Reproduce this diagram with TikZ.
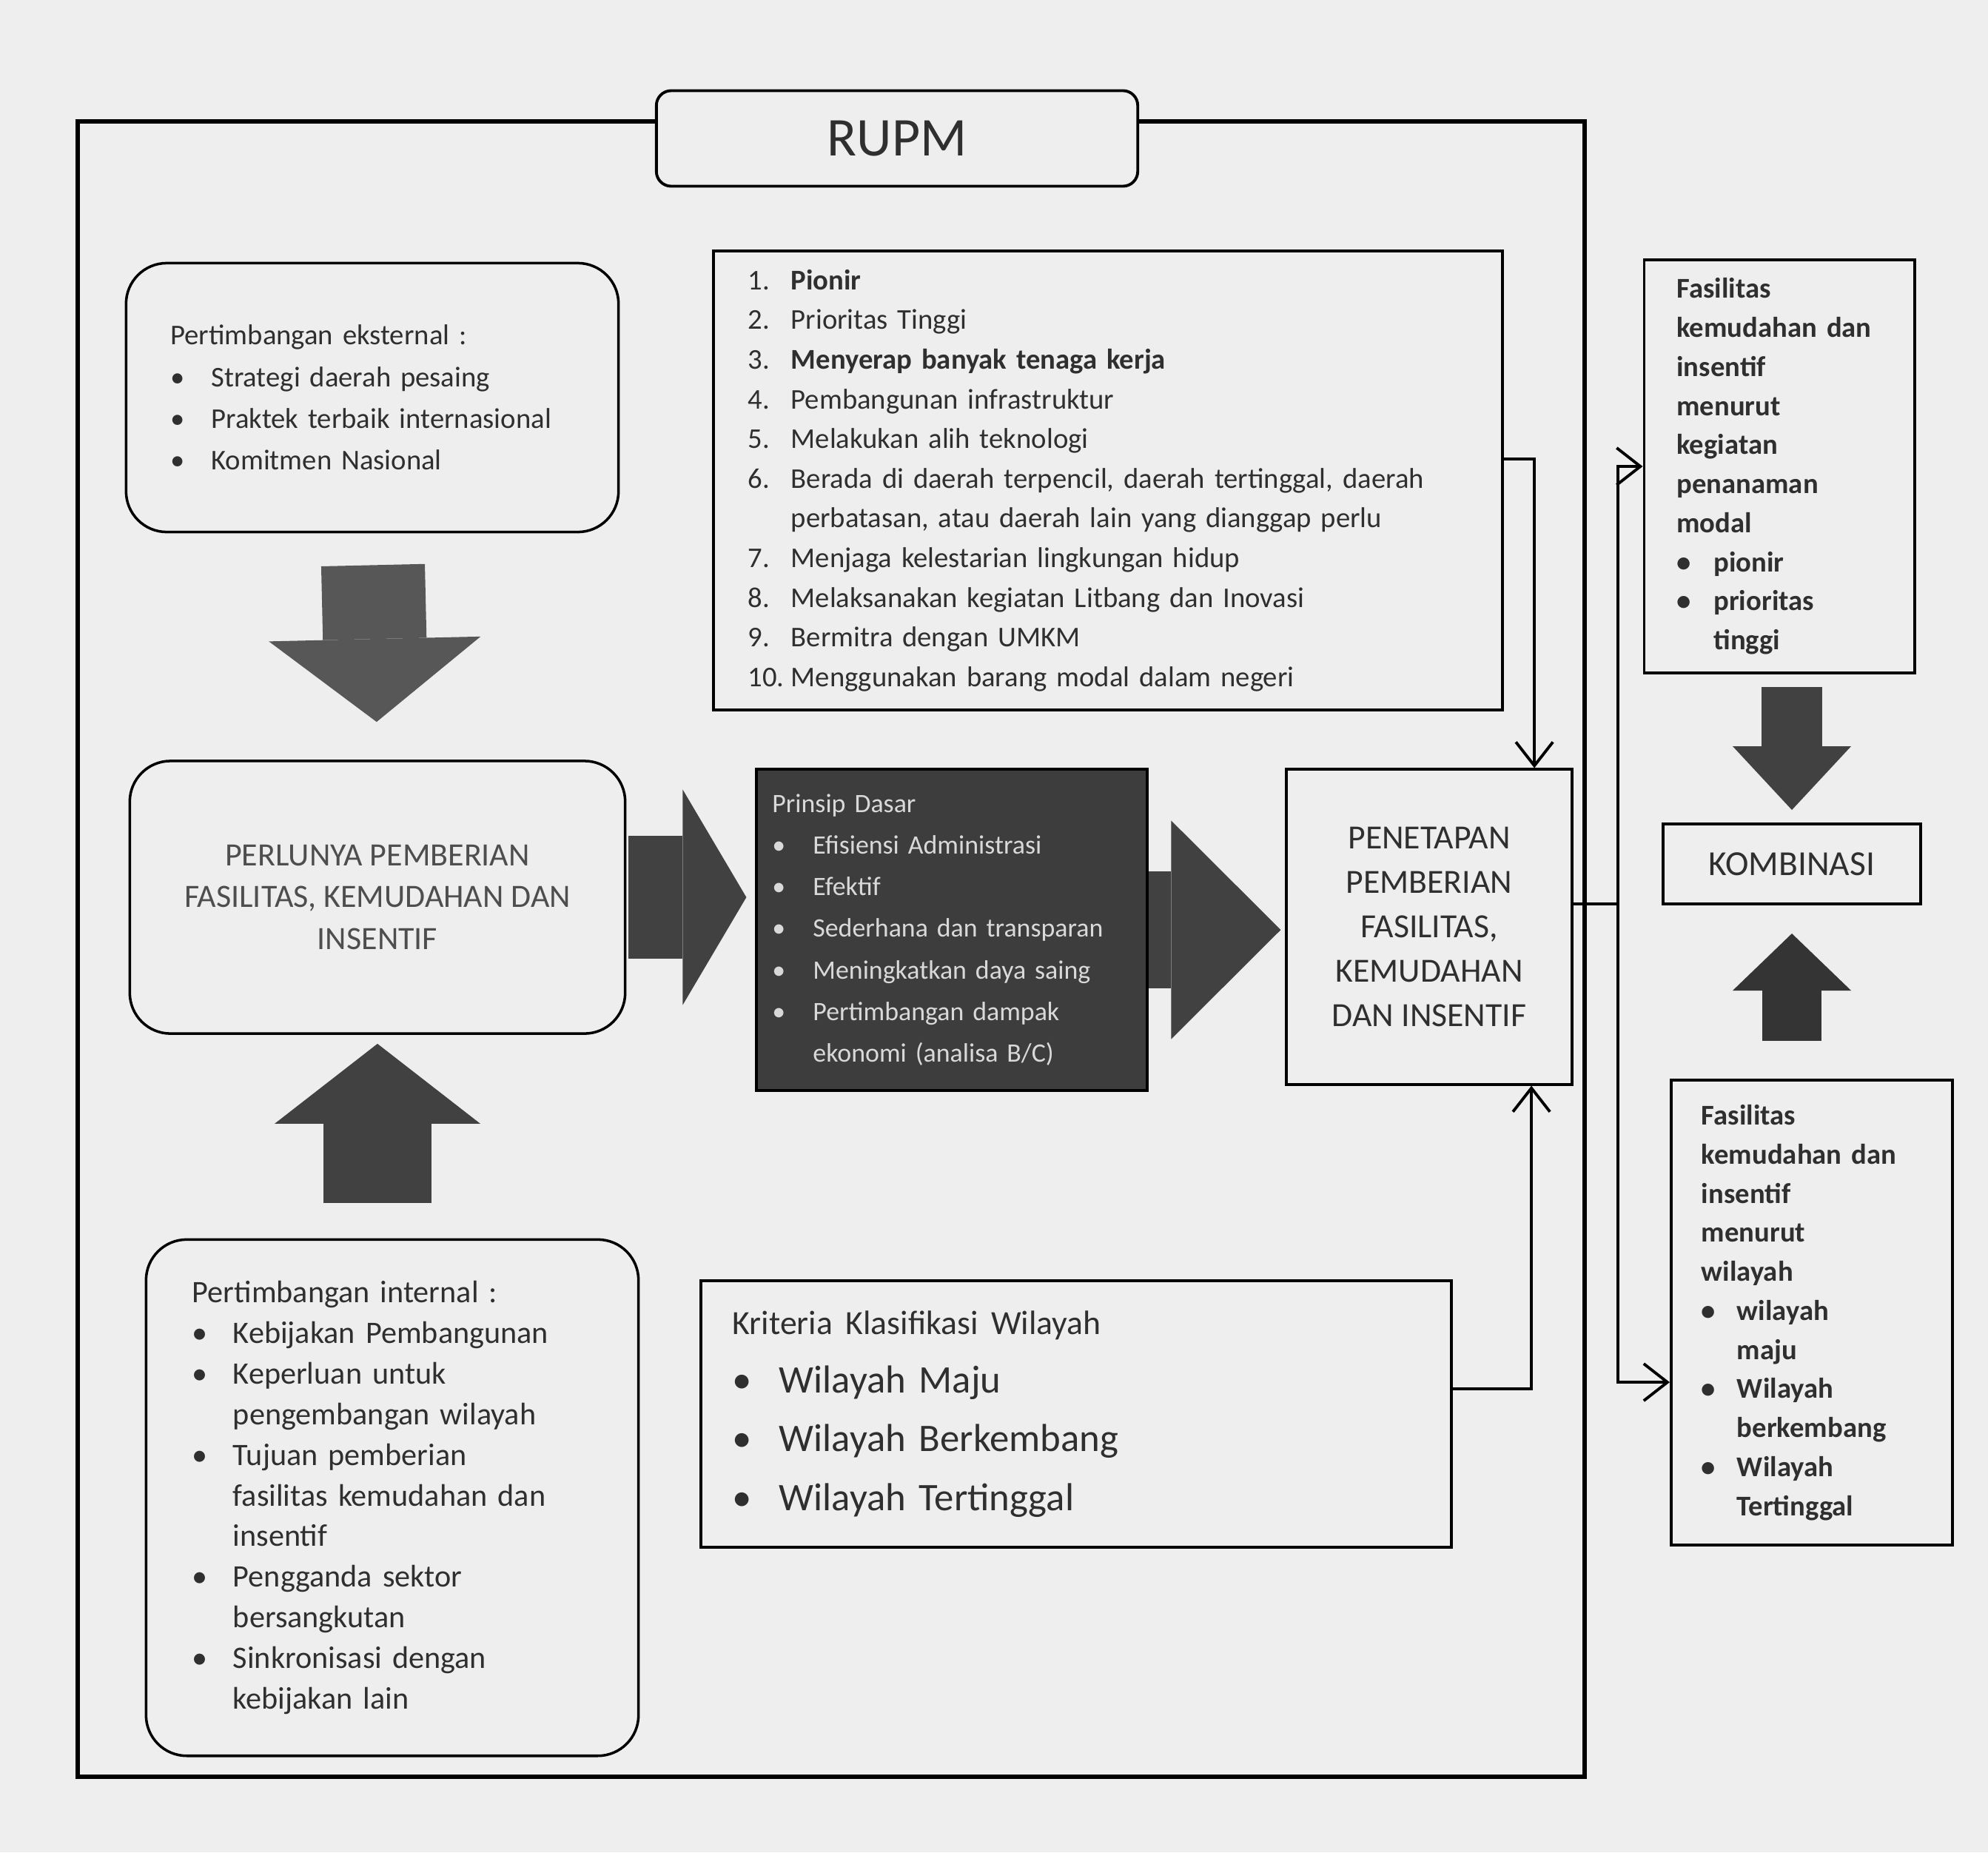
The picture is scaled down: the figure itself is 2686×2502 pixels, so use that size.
\documentclass[tikz,border=0pt]{standalone}
\usepackage{fontspec}
\setmainfont{Carlito}
\usepackage{xcolor}
\usetikzlibrary{positioning,arrows.meta}

\definecolor{paper}{HTML}{EEEEEE}
\definecolor{ink}{HTML}{2F2F2F}
\definecolor{slab}{HTML}{3D3D3D}
\definecolor{arrowgray}{HTML}{414141}
\definecolor{arrowlight}{HTML}{575757}

\newcommand{\itm}[1][0.55cm]{\makebox[#1][l]{\textbullet}}
\newcommand{\ind}[1][0.55cm]{\hspace*{#1}}
\newcommand{\nr}[1]{\makebox[0.58cm][l]{#1}}

\begin{document}
\begin{tikzpicture}
[
x=0.01cm, y=-0.01cm,
box-r/.style={draw=black, line width=1pt, fill=paper, text=ink, rounded corners=0.55cm, inner sep=0pt, align=left},
box-s/.style={draw=black, line width=1.1pt, fill=paper, text=ink, inner sep=0pt, align=left},
fat-a/.style n args={4}{draw=#4, line width=#1, -{Triangle[length=#2, width=#3, line width=0pt 0]}},
conn-a/.style={draw=black, line width=1.1pt, -{Straight Barb[length=0.32cm, width=0.5cm]}},
line-a/.style={draw=black, line width=1.1pt}
]
\fill[paper] (0,0) rectangle (2686,2502);

% frame and title
\node (frame) [draw=black, line width=1.7pt, minimum width=20.34cm, minimum height=22.35cm] at (1123,1282) {};
\node (title) [box-s, rounded corners=0.2cm, align=center, minimum width=6.5cm, minimum height=1.29cm, font=\fontsize{21}{25}\selectfont] at (1212,187) {RUPM};

% left column
\node (ext)    [box-r, minimum width=6.65cm, minimum height=3.63cm, text width=5.45cm, font=\fontsize{11}{16}\selectfont] at (503,537)
  {Pertimbangan eksternal :\\
   \itm Strategi daerah pesaing\\
   \itm Praktek terbaik internasional\\
   \itm Komitmen Nasional};
\node (perlu)  [box-r, align=center, text=ink!85, minimum width=6.69cm, minimum height=3.68cm, font=\fontsize{12.5}{16}\selectfont] at (510,1212)
  {PERLUNYA PEMBERIAN\\FASILITAS, KEMUDAHAN DAN\\INSENTIF};
\node (intern) [box-r, minimum width=6.65cm, minimum height=6.97cm, text width=5.4cm, font=\fontsize{12}{15.6}\selectfont] at (530,2023)
  {Pertimbangan internal :\\
   \itm Kebijakan Pembangunan\\
   \itm Keperluan untuk\\
   \ind pengembangan wilayah\\
   \itm Tujuan pemberian\\
   \ind fasilitas kemudahan dan\\
   \ind insentif\\
   \itm Pengganda sektor\\
   \ind bersangkutan\\
   \itm Sinkronisasi dengan\\
   \ind kebijakan lain};

% middle column
\node (list)    [box-s, minimum width=10.66cm, minimum height=6.20cm, text width=9.72cm, font=\fontsize{11}{15.25}\selectfont] at (1497,649)
  {\nr{1.}\textbf{Pionir}\\
   \nr{2.}Prioritas Tinggi\\
   \nr{3.}\textbf{Menyerap banyak tenaga kerja}\\
   \nr{4.}Pembangunan infrastruktur\\
   \nr{5.}Melakukan alih teknologi\\
   \nr{6.}Berada di daerah terpencil, daerah tertinggal, daerah\\
   \nr{}perbatasan, atau daerah lain yang dianggap perlu\\
   \nr{7.}Menjaga kelestarian lingkungan hidup\\
   \nr{8.}Melaksanakan kegiatan Litbang dan Inovasi\\
   \nr{9.}Bermitra dengan UMKM\\
   \nr{10.}Menggunakan barang modal dalam negeri};
\node (prinsip) [box-s, fill=slab, text=white!85!black, minimum width=5.27cm, minimum height=4.33cm, text width=4.85cm, font=\fontsize{10.2}{16}\selectfont] at (1286,1256)
  {Prinsip Dasar\\
   \itm Efisiensi Administrasi\\
   \itm Efektif\\
   \itm Sederhana dan transparan\\
   \itm Meningkatkan daya saing\\
   \itm Pertimbangan dampak\\
   \ind ekonomi (analisa B/C)};
\node (tetap)   [box-s, align=center, minimum width=3.85cm, minimum height=4.25cm, font=\fontsize{13}{17}\selectfont] at (1931,1252)
  {PENETAPAN\\PEMBERIAN\\FASILITAS,\\KEMUDAHAN\\DAN INSENTIF};
\node (wil)     [box-s, minimum width=10.14cm, minimum height=3.60cm, text width=9.28cm, font=\fontsize{15}{22.5}\selectfont] at (1454,1910)
  {{\fontsize{13}{22.5}\selectfont Kriteria Klasifikasi Wilayah}\\
   \itm[0.63cm]Wilayah Maju\\
   \itm[0.63cm]Wilayah Berkembang\\
   \itm[0.63cm]Wilayah Tertinggal};

% right column
\node (keg)  [box-s, minimum width=3.65cm, minimum height=5.57cm, text width=2.77cm, font=\bfseries\fontsize{11}{15}\selectfont] at (2404,630)
  {Fasilitas\\kemudahan dan\\insentif\\menurut\\kegiatan\\penanaman\\modal\\
   \itm[0.5cm]pionir\\
   \itm[0.5cm]prioritas\\
   \ind[0.5cm]tinggi};
\node (komb) [box-s, align=center, minimum width=3.48cm, minimum height=1.08cm, font=\fontsize{13.5}{16}\selectfont] at (2421,1167) {KOMBINASI};
\node (wlyh) [box-s, minimum width=3.80cm, minimum height=6.28cm, text width=2.98cm, font=\bfseries\fontsize{11}{15}\selectfont] at (2448,1773)
  {Fasilitas\\kemudahan dan\\insentif\\menurut\\wilayah\\
   \itm[0.48cm]wilayah\\
   \ind[0.48cm]maju\\
   \itm[0.48cm]Wilayah\\
   \ind[0.48cm]berkembang\\
   \itm[0.48cm]Wilayah\\
   \ind[0.48cm]Tertinggal};

% block arrows
\draw[fat-a={1.40cm}{1.12cm}{2.86cm}{arrowlight}, shorten <=0.43cm, shorten >=0.51cm] (ext.south) -- (perlu.north);
\draw[fat-a={1.46cm}{1.08cm}{2.78cm}{arrowgray},  shorten <=0.48cm, shorten >=0.12cm] (perlu.south |- intern.north) -- (perlu.south);
\draw[fat-a={1.66cm}{0.86cm}{2.91cm}{arrowgray},  shorten <=0.03cm, shorten >=0.12cm] (perlu.east) -- (perlu.east -| prinsip.west);
\draw[fat-a={1.58cm}{1.48cm}{2.95cm}{arrowgray},  shorten >=0.06cm] (prinsip.east) -- (prinsip.east -| tetap.west);
\draw[fat-a={0.82cm}{0.86cm}{1.60cm}{arrowgray},  shorten <=0.17cm, shorten >=0.17cm] (komb.north |- keg.south) -- (komb.north);
\draw[fat-a={0.80cm}{0.77cm}{1.60cm}{arrowgray!80!black}, shorten <=0.51cm, shorten >=0.38cm] (komb.south |- wlyh.north) -- (komb.south);

% connectors
\coordinate (split) at ([xshift=0.6cm, yshift=0.31cm]tetap.east);
\draw[conn-a] ([yshift=0.29cm]list.east) -| ([xshift=1.42cm]tetap.north);
\draw[conn-a] ([yshift=0.34cm]wil.east) -| ([xshift=1.38cm]tetap.south);
\draw[line-a] ([yshift=0.31cm]tetap.east) -- (split);
\draw[conn-a] (split) |- (keg.west);
\draw[conn-a] (split) |- ([yshift=-0.94cm]wlyh.west);
\end{tikzpicture}
\end{document}
